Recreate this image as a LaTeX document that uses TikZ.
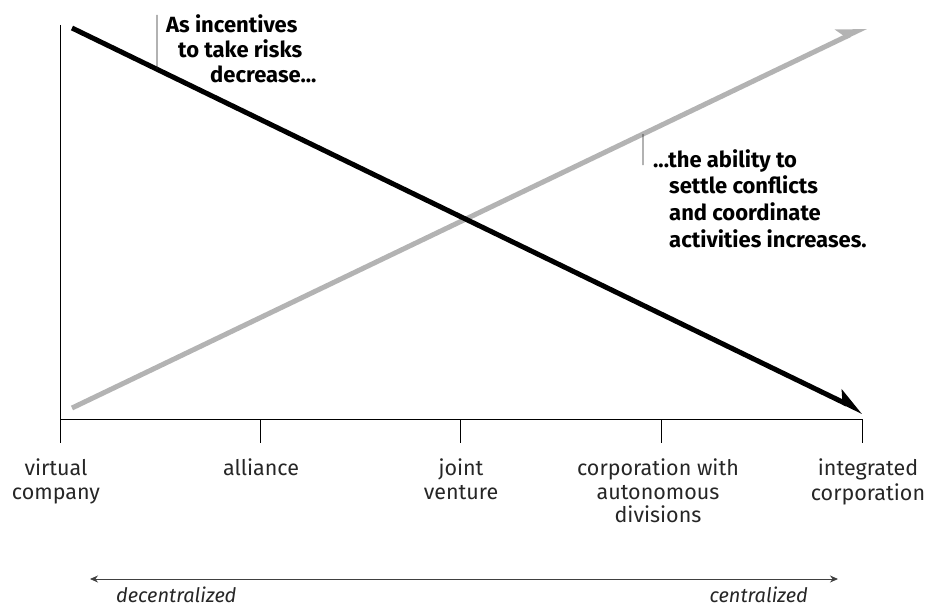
\documentclass[tikz,border=0pt]{standalone}
\usepackage{fontspec}
\setmainfont{Fira Sans}
\usetikzlibrary{arrows.meta,calc}
\definecolor{trendgray}{HTML}{B3B3B3}
\definecolor{labelink}{HTML}{262626}
\tikzset{
  axisline/.style={line width=1pt, black},
  trend/.style={line width=5pt, -{Stealth[left, length=24pt, width=22pt, inset=6pt]}},
  leader/.style={line width=0.8pt, black!85},
  note/.style={anchor=base west, inner sep=0pt, font=\bfseries\fontsize{22}{25}\selectfont},
  stage/.style={anchor=north, inner sep=0pt, align=center, text=labelink,
                font=\fontsize{21.5}{23.5}\selectfont},
  scale label/.style={anchor=base west, inner sep=0pt, text=labelink,
                font=\itshape\fontsize{20}{24}\selectfont},
}
\begin{document}
\begin{tikzpicture}[x=1pt, y=-1pt]
  \useasboundingbox (0,0) rectangle (936,607);

  % axes and stage ticks
  \coordinate (ytop) at (60,25);
  \coordinate (o)    at (60,419);
  \coordinate (xend) at (862,419);
  \draw[axisline] (ytop) -- (60,443);
  \draw[axisline] (o) -- (xend);
  \foreach \i/\x in {1/260, 2/460, 3/661, 4/862}
    \draw[axisline] (\x,419) coordinate (t\i) -- (\x,443);

  % the two trends
  \coordinate (b0) at (72,28);
  \coordinate (b1) at (863,412);
  \coordinate (g0) at (72,408);
  \coordinate (g1) at (866,27);
  \draw[trend, trendgray] (g0) -- (g1);
  \draw[trend, black] (b0) -- (b1);

  % annotation for the falling line: a vertical leader down to the line
  \coordinate (k1top) at (157,15);
  \coordinate (k1) at ($(b0)!{(157-72)/(863-72)}!(b1)$);
  \draw[leader] (k1top) -- (k1);
  \node[note] (n1a) at (166,33) {As incentives};
  \node[note] (n1b) at (178,58) {to take risks};
  \node[note] (n1c) at (210,83) {decrease...};

  % annotation for the rising line: a vertical leader hanging from the line
  \coordinate (k2) at ($(g0)!{(643-72)/(866-72)}!(g1)$);
  \coordinate (k2bot) at (643,165);
  \draw[leader] (k2) -- (k2bot);
  \node[note] (n2a) at (653,167) {...the ability to};
  \node[note] (n2b) at (669,193) {settle conflicts};
  \node[note] (n2c) at (669,220) {and coordinate};
  \node[note] (n2d) at (669,247) {activities increases.};

  % stage labels
  \node[stage] (s0) at (56,459)  {\strut virtual\\company};
  \node[stage] (s1) at (261,459) {\strut alliance};
  \node[stage] (s2) at (461,459) {\strut joint\\venture};
  \node[stage] (s3) at (658,459) {\strut corporation with\\autonomous\\divisions};
  \node[stage] (s4) at (868,459) {\strut integrated\\corporation};

  % decentralized / centralized scale
  \coordinate (sl) at (90,579);
  \coordinate (sr) at (838,579);
  \draw[line width=1pt, black!75, {Stealth[length=8pt, width=7pt]}-{Stealth[length=8pt, width=7pt]}] (sl) -- (sr);
  \node[scale label] (dec) at (116,602) {decentralized};
  \node[scale label, anchor=base east] (cen) at (808,602) {centralized};
\end{tikzpicture}
\end{document}
